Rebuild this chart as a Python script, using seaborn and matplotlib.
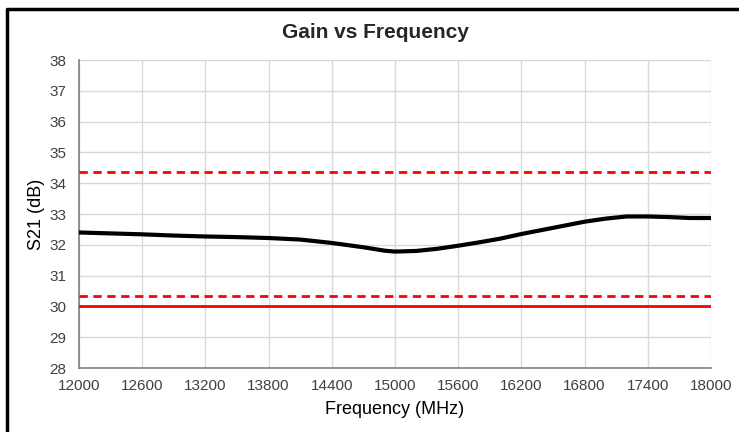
import numpy as np
import pandas as pd
import matplotlib
matplotlib.use("Agg")
import matplotlib.pyplot as plt
import seaborn as sns
from matplotlib.lines import Line2D

freq = [12000, 12300, 12600, 12900, 13200, 13500, 13800, 14100, 14400, 14700,
        14900, 15000, 15200, 15400, 15600, 15800, 16000, 16200, 16500, 16800,
        17000, 17200, 17400, 17600, 17800, 18000]
gain = [32.40, 32.37, 32.34, 32.30, 32.27, 32.25, 32.22, 32.17, 32.06, 31.92,
        31.81, 31.78, 31.80, 31.87, 31.97, 32.08, 32.20, 32.35, 32.55, 32.75,
        32.85, 32.92, 32.92, 32.90, 32.87, 32.87]
upper_lim = 34.35
lower_lim = 30.35
min_spec = 30.0

df = pd.DataFrame({"Frequency (MHz)": freq, "S21 (dB)": gain})

sns.set_style("white")
plt.rcParams['font.family'] = ['Liberation Sans', 'DejaVu Sans']

fig = plt.figure(figsize=(7.39, 4.32), dpi=100)
ax = fig.add_axes([79/739, 1-368/432, (711-79)/739, (368-60)/432])

ax.axhline(upper_lim, color="#ff0000", lw=2, ls=(0, (3, 2)), zorder=3)
ax.axhline(lower_lim, color="#ff0000", lw=2, ls=(0, (3, 2)), zorder=3)
ax.axhline(min_spec, color="#ff0000", lw=2, zorder=3)
sns.lineplot(data=df, x="Frequency (MHz)", y="S21 (dB)", color="black", lw=3, ax=ax, zorder=4)

ax.set_xlim(12000, 18000)
ax.set_ylim(28, 38)
ax.set_xticks(np.arange(12000, 18001, 600))
ax.set_yticks(np.arange(28, 39, 1))
ax.grid(True, color="#d9d9d9", lw=1)
for s in ["top", "right"]:
    ax.spines[s].set_visible(False)
for s in ["left", "bottom"]:
    ax.spines[s].set_color("#7f7f7f")
    ax.spines[s].set_linewidth(1.2)
ax.tick_params(axis="both", length=0, labelsize=11, colors="#404040")
ax.tick_params(axis="x", pad=8)
ax.tick_params(axis="y", pad=9)
ax.set_xlabel("Frequency (MHz)", fontsize=13, color="black", labelpad=6)
ax.set_ylabel("S21 (dB)", fontsize=13, color="black", labelpad=3)
fig.text(375/739, 1-32/432, "Gain vs Frequency", ha="center", va="center",
         fontsize=15, fontweight="bold")

# Rahmen
fig.add_artist(Line2D([7/739, 7/739, 1], [0, 1-9/432, 1-9/432],
                      transform=fig.transFigure, color="black", lw=2.5))

fig.savefig("out.png", dpi=100)
